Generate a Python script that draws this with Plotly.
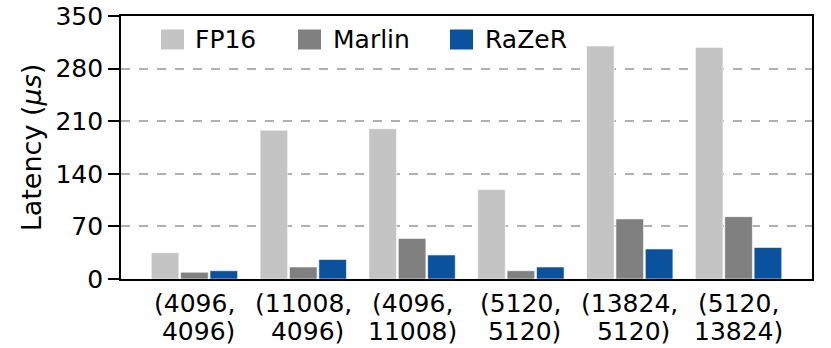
import plotly.graph_objects as go

categories = ["(4096,<br>\u00a04096)", "(11008,<br>\u00a04096)", "(4096,<br>11008)",
              "(5120,<br>\u00a05120)", "(13824,<br>\u00a05120)", "(5120,<br>13824)"]
series_names = ["FP16", "Marlin", "RaZeR"]
fp16 = [35, 198, 200, 119, 310, 308]
marlin = [9, 16, 54, 11, 80, 83]
razer = [11, 26, 32, 16, 40, 42]
colors = ["#c4c4c4", "#808080", "#0b529e"]
y_ticks = [0, 70, 140, 210, 280, 350]

W, H = 831, 348
L, R, T, B = 121, 19, 16, 69
FONT = "DejaVu Sans, Verdana, sans-serif"
FS = 25

xs = list(range(len(categories)))
fig = go.Figure()
for name, vals, col in zip(series_names, [fp16, marlin, razer], colors):
    fig.add_trace(go.Bar(
        x=xs, y=vals, name=name,
        marker=dict(color=col, line=dict(color="rgba(255,255,255,0.6)", width=1)),
        showlegend=False,
    ))

fig.update_layout(
    width=W, height=H,
    margin=dict(l=L, r=R, t=T, b=B, autoexpand=False),
    paper_bgcolor="white", plot_bgcolor="white",
    barmode="group", bargap=0.19, bargroupgap=0.06,
    font=dict(family=FONT, size=FS, color="black"),
    xaxis=dict(
        range=[-0.675, 5.675], tickmode="array", tickvals=xs,
        showticklabels=False,
        showline=True, linecolor="black", linewidth=1.8, mirror=True,
        ticks="", showgrid=False, zeroline=False, automargin=False,
    ),
    yaxis=dict(
        range=[0, 350], tickmode="array", tickvals=y_ticks,
        showline=True, linecolor="black", linewidth=1.8, mirror=True,
        ticks="outside", ticklen=11, tickwidth=1.5, tickcolor="black",
        showgrid=True, gridcolor="#b0b0b0", gridwidth=1.5, griddash="dash",
        zeroline=False, automargin=False, tickfont=dict(size=FS),
        title=dict(text="Latency (<i>μs</i>)", font=dict(size=27), standoff=6),
    ),
)

pw, ph = W - L - R, H - T - B
def px(x):
    return (x - L) / pw
def py(y):
    return (H - B - y) / ph

# category labels (two lines each, tighter line spacing than plotly's default)
for xv, lab in zip(xs, categories):
    for line, ymid in zip(lab.split("<br>"), [303, 331.3]):
        fig.add_annotation(xref="x", yref="paper", x=xv, y=py(ymid), text=line,
                           showarrow=False, xanchor="center", yanchor="middle",
                           font=dict(size=FS, family=FONT, color="black"))

# manual legend
sq_x = [161, 298, 450]
tx_x = [193, 331, 483]
for name, col, sx, tx in zip(series_names, colors, sq_x, tx_x):
    fig.add_shape(type="rect", xref="paper", yref="paper",
                  x0=px(sx), x1=px(sx + 23), y0=py(49.5), y1=py(29.5),
                  fillcolor=col, line=dict(width=0))
    fig.add_annotation(xref="paper", yref="paper", x=px(tx), y=py(39.5),
                       text=name, showarrow=False, xanchor="left", yanchor="middle",
                       font=dict(size=FS, family=FONT, color="black"))

fig.write_html("out.html", config={"displayModeBar": False},
               post_script="document.body.style.margin='0';")
